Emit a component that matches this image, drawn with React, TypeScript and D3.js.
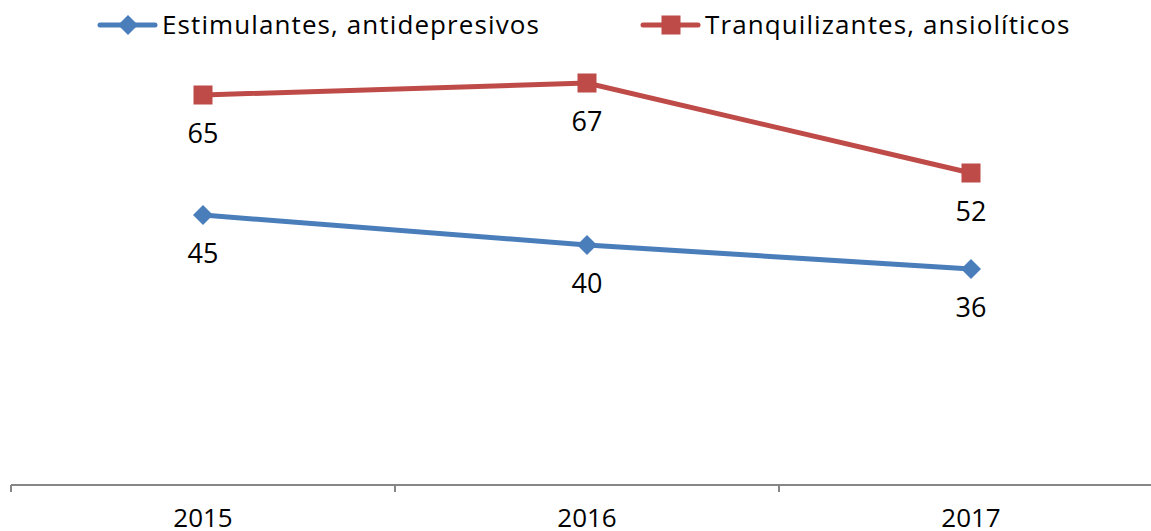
import * as d3 from 'd3';
import React from 'react';

const years = ['2015', '2016', '2017'];
const estimulantes = [45, 40, 36];
const tranquilizantes = [65, 67, 52];
const seriesNames = ['Estimulantes, antidepresivos', 'Tranquilizantes, ansiolíticos'];

const W = 1151;
const H = 531;
const font = "'Open Sans', sans-serif";

export default function App() {
  const x = d3.scaleBand().domain(years).range([11, 1163]);
  const y = d3.scaleLinear().domain([0, 80]).range([485, 5]);
  const cx = (d: string) => (x(d) ?? 0) + x.bandwidth() / 2;

  const series = [
    { name: seriesNames[0], values: estimulantes, color: '#4a7ebb', marker: 'diamond' },
    { name: seriesNames[1], values: tranquilizantes, color: '#be4b48', marker: 'square' },
  ];

  const line = d3
    .line<number>()
    .x((_, i) => cx(years[i]))
    .y((v) => y(v));

  const marker = (kind: string, px: number, py: number, color: string) =>
    kind === 'square' ? (
      <rect x={px - 9.5} y={py - 9.5} width={19} height={19} fill={color} />
    ) : (
      <path d={`M${px},${py - 10}L${px + 10},${py}L${px},${py + 10}L${px - 10},${py}Z`} fill={color} />
    );

  const legendX = [100, 643];
  const ticks = [11, 395, 779, 1163];

  return (
    <svg width={W} height={H} style={{ position: 'absolute', left: 0, top: 0, background: '#fff' }}>
      {/* axis */}
      <line x1={11} x2={W} y1={485} y2={485} stroke="#868686" strokeWidth={2} />
      {ticks.map((t) => (
        <line key={t} x1={t} x2={t} y1={485} y2={492} stroke="#868686" strokeWidth={2} />
      ))}
      {years.map((yr) => (
        <text key={yr} x={cx(yr)} y={527} textAnchor="middle" fontFamily={font} fontSize={26} fill="#000">
          {yr}
        </text>
      ))}

      {series.map((s) => (
        <g key={s.name}>
          <path d={line(s.values) ?? ''} fill="none" stroke={s.color} strokeWidth={5} />
          {s.values.map((v, i) => (
            <g key={i}>
              {marker(s.marker, cx(years[i]), y(v), s.color)}
              <text x={cx(years[i])} y={y(v) + 48} textAnchor="middle" fontFamily={font} fontSize={27} fill="#000">
                {v}
              </text>
            </g>
          ))}
        </g>
      ))}

      {/* legend */}
      {series.map((s, i) => (
        <g key={s.name} transform={`translate(${legendX[i]},25)`}>
          <line x1={0} x2={55} y1={0} y2={0} stroke={s.color} strokeWidth={5} strokeLinecap="round" />
          {marker(s.marker, 28, 0, s.color)}
          <text x={62} y={9} fontFamily={font} fontSize={26} letterSpacing={1.1} fill="#000">
            {s.name}
          </text>
        </g>
      ))}
    </svg>
  );
}
